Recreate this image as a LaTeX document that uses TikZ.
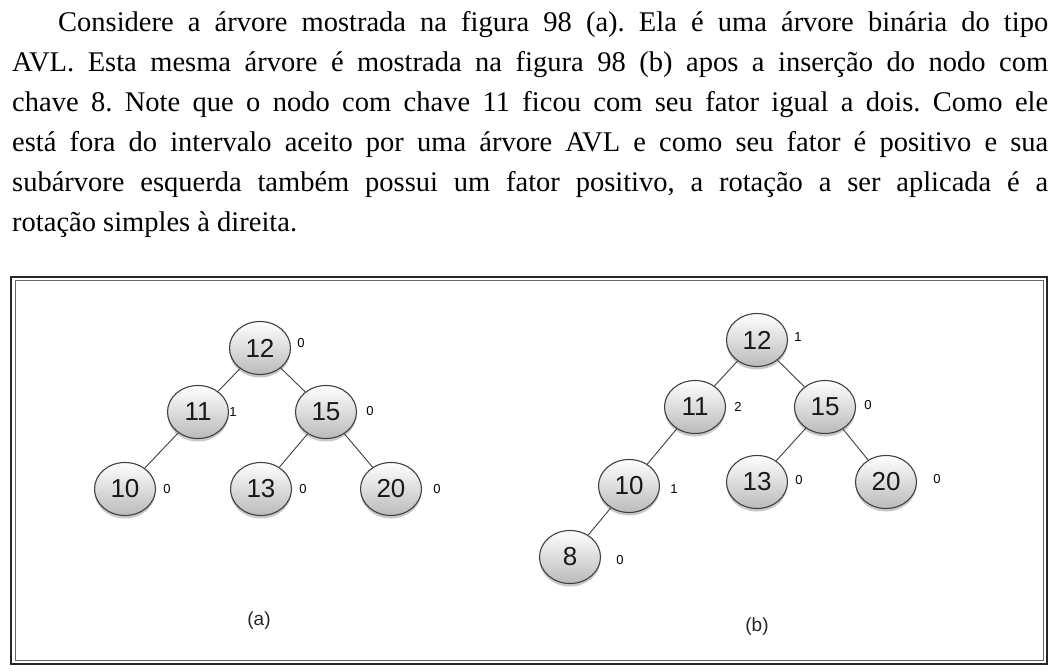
\documentclass[tikz,border=0pt]{standalone}
\usepackage{fontspec}
\setmainfont{Liberation Serif}
\newfontfamily\hv{Liberation Sans}
\usetikzlibrary{shapes.geometric,shadows}
\tikzset{
  avl/.style={ellipse, minimum width=61pt, minimum height=53pt, inner sep=0pt,
    draw=black!75, line width=1.1pt, top color=white, bottom color=black!27,
    drop shadow={shadow xshift=0pt, shadow yshift=-3pt, opacity=0.3, fill=black!70},
    font=\hv\fontsize{26}{26}\selectfont, text=black!90},
  bf/.style={inner sep=0pt, font=\hv\fontsize{13}{13}\selectfont, text=black},
  edge/.style={draw=black!75, line width=0.9pt},
  captxt/.style={inner sep=0pt, font=\hv\fontsize{19}{19}\selectfont, text=black!85},
  txt/.style={anchor=base west, inner sep=0pt, font=\fontsize{28.5}{40}\selectfont\frenchspacing}
}
\begin{document}
\begin{tikzpicture}[x=1pt,y=-1pt]
\useasboundingbox[fill=white] (0,0) rectangle (1061,671);
% paragraph
\node[txt] (l1) at (58,32) {\makebox[990pt][s]{Considere a árvore mostrada na figura 98 (a). Ela é uma árvore binária do tipo}};
\node[txt] (l2) at (12,72) {\makebox[1036pt][s]{AVL. Esta mesma árvore é mostrada na figura 98 (b) apos a inserção do nodo com}};
\node[txt] (l3) at (12,112) {\makebox[1036pt][s]{chave 8. Note que o nodo com chave 11 ficou com seu fator igual a dois. Como ele}};
\node[txt] (l4) at (12,152) {\makebox[1036pt][s]{está fora do intervalo aceito por uma árvore AVL e como seu fator é positivo e sua}};
\node[txt] (l5) at (12,192) {\makebox[1036pt][s]{subárvore esquerda também possui um fator positivo, a rotação a ser aplicada é a}};
\node[txt] (l6) at (12,232) {rotação simples à direita.};
% frame
\draw[line width=2.5pt, draw=black!85] (11,277) rectangle (1047,664);
\draw[line width=1pt, draw=black!60] (15,281) rectangle (1043,660);
% tree (a)
\node[avl] (a12) at (260,348) {12};
\node[avl] (a11) at (198,412) {11};
\node[avl] (a15) at (326,412) {15};
\node[avl] (a10) at (125,489) {10};
\node[avl] (a13) at (261,489) {13};
\node[avl] (a20) at (391,489) {20};
\draw[edge] (a12) -- (a11);
\draw[edge] (a12) -- (a15);
\draw[edge] (a11) -- (a10);
\draw[edge] (a15) -- (a13);
\draw[edge] (a15) -- (a20);
\node[bf] (fa12) at (301,343) {0};
\node[bf] (fa11) at (233,412) {1};
\node[bf] (fa15) at (370,411) {0};
\node[bf] (fa10) at (167,489) {0};
\node[bf] (fa13) at (303,489) {0};
\node[bf] (fa20) at (437,489) {0};
\node[captxt] (capa) at (259,621) {(a)};
% tree (b)
\node[avl] (b12) at (757,340) {12};
\node[avl] (b11) at (695,407) {11};
\node[avl] (b15) at (825,407) {15};
\node[avl] (b10) at (629,486) {10};
\node[avl] (b13) at (757,482) {13};
\node[avl] (b20) at (886,482) {20};
\node[avl] (b8) at (570,557) {8};
\draw[edge] (b12) -- (b11);
\draw[edge] (b12) -- (b15);
\draw[edge] (b11) -- (b10);
\draw[edge] (b10) -- (b8);
\draw[edge] (b15) -- (b13);
\draw[edge] (b15) -- (b20);
\node[bf] (fb12) at (798,337) {1};
\node[bf] (fb11) at (738,407) {2};
\node[bf] (fb15) at (868,405) {0};
\node[bf] (fb10) at (674,489) {1};
\node[bf] (fb13) at (799,480) {0};
\node[bf] (fb20) at (937,479) {0};
\node[bf] (fb8) at (620,560) {0};
\node[captxt] (capb) at (757,627) {(b)};
\end{tikzpicture}
\end{document}
